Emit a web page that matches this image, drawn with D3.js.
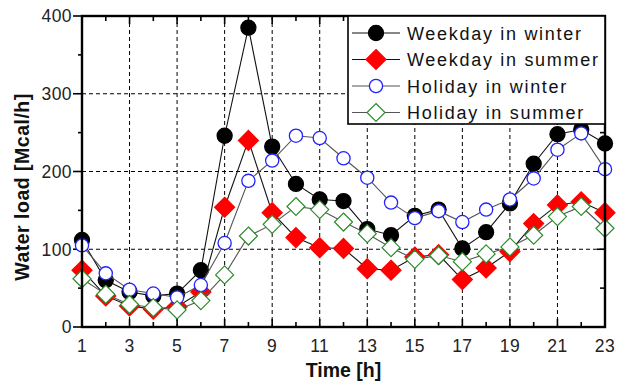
<!DOCTYPE html>
<html>
<head>
<meta charset="utf-8">
<script src="https://cdn.jsdelivr.net/npm/d3@7/dist/d3.min.js"></script>
<style>
  body { margin: 0; background: #fff; }
  svg { display: block; font-family: "Liberation Sans", Arial, sans-serif; }
  .tick-label { font-size: 17.5px; fill: #222; letter-spacing: 0.4px; }
  .axis-title { font-size: 19.5px; font-weight: bold; fill: #111; }
  .legend-text { font-size: 18px; fill: #111; letter-spacing: 1.7px; }
</style>
</head>
<body>
<div id="chart"></div>
<script>
// hours of the day
const hours = [1, 2, 3, 4, 5, 6, 7, 8, 9, 10, 11, 12, 13, 14, 15, 16, 17, 18, 19, 20, 21, 22, 23];

// water load [Mcal/h]
const weekdayWinter = [112, 60, 45, 40, 43, 73, 246, 385, 232, 184, 164, 162, 126, 118, 143, 151, 101, 122, 159, 210, 248, 254, 236];
const weekdaySummer = [73, 40, 27, 23, 26, 45, 154, 240, 147, 115, 102, 101, 75, 73, 90, 93, 61, 76, 97, 133, 157, 161, 147];
const holidayWinter = [105, 69, 48, 43, 38, 54, 108, 188, 214, 246, 243, 217, 192, 160, 140, 149, 135, 151, 164, 191, 228, 249, 203];
const holidaySummer = [62, 42, 29, 25, 22, 34, 67, 117, 132, 155, 151, 135, 120, 102, 87, 92, 84, 94, 103, 118, 142, 155, 127];

const seriesNames = ["Weekday in winter", "Weekday in summer", "Holiday in winter", "Holiday in summer"];
const xTickValues = [1, 3, 5, 7, 9, 11, 13, 15, 17, 19, 21, 23];
const yTickValues = [0, 100, 200, 300, 400];

const width = 628, height = 385;
const plot = { left: 82, right: 605, top: 16, bottom: 327 };

const x = d3.scaleLinear().domain([1, 23]).range([plot.left, plot.right]);
const y = d3.scaleLinear().domain([0, 400]).range([plot.bottom, plot.top]);

const svg = d3.select("#chart").append("svg")
  .attr("width", width)
  .attr("height", height);

// dashed grid
const grid = svg.append("g").attr("stroke", "#000").attr("stroke-width", 1).attr("stroke-dasharray", "4,3");
grid.selectAll(".vgrid")
  .data(xTickValues.filter(d => d > 1 && d < 23))
  .enter().append("line")
  .attr("x1", d => x(d)).attr("x2", d => x(d))
  .attr("y1", plot.top).attr("y2", plot.bottom);
grid.selectAll(".hgrid")
  .data(yTickValues.filter(d => d > 0 && d < 400))
  .enter().append("line")
  .attr("x1", plot.left).attr("x2", plot.right)
  .attr("y1", d => y(d)).attr("y2", d => y(d));

// ticks: bottom / top inward, left outward, right inward
const xMinor = d3.range(1, 24);
const yMinor = d3.range(0, 401, 50);
const ticks = svg.append("g").attr("stroke", "#000").attr("stroke-width", 1.6);
xMinor.forEach(h => {
  const len = (h % 2 === 1) ? 8 : 5;
  ticks.append("line").attr("x1", x(h)).attr("x2", x(h)).attr("y1", plot.bottom).attr("y2", plot.bottom - len);
  ticks.append("line").attr("x1", x(h)).attr("x2", x(h)).attr("y1", plot.top).attr("y2", plot.top + len);
});
yMinor.forEach(v => {
  const major = v % 100 === 0;
  ticks.append("line").attr("y1", y(v)).attr("y2", y(v)).attr("x1", plot.left).attr("x2", plot.left - (major ? 9 : 4));
  ticks.append("line").attr("y1", y(v)).attr("y2", y(v)).attr("x1", plot.right).attr("x2", plot.right - (major ? 8 : 5));
});

// tick labels
svg.append("g").selectAll("text")
  .data(xTickValues)
  .enter().append("text")
  .attr("class", "tick-label")
  .attr("x", d => x(d))
  .attr("y", 352)
  .attr("text-anchor", "middle")
  .text(d => d);

svg.append("g").selectAll("text")
  .data(yTickValues)
  .enter().append("text")
  .attr("class", "tick-label")
  .attr("x", 72)
  .attr("y", d => y(d) + 6.3)
  .attr("text-anchor", "end")
  .text(d => d);

// axis titles
svg.append("text")
  .attr("class", "axis-title")
  .attr("x", (plot.left + plot.right) / 2)
  .attr("y", 377)
  .attr("text-anchor", "middle")
  .text("Time [h]");

svg.append("text")
  .attr("class", "axis-title")
  .attr("transform", "translate(29,187) rotate(-90)")
  .attr("text-anchor", "middle")
  .style("letter-spacing", "0.5px")
  .text("Water load [Mcal/h]");

// series definitions
const series = [
  { name: seriesNames[0], values: weekdayWinter, line: "#111", shape: "circle", r: 7.5, fill: "#000", stroke: "#000" },
  { name: seriesNames[1], values: weekdaySummer, line: "#111", shape: "diamond", r: 10, fill: "#ff0000", stroke: "#ff0000" },
  { name: seriesNames[2], values: holidayWinter, line: "#555", shape: "circle", r: 6.6, fill: "#fff", stroke: "#2222ff" },
  { name: seriesNames[3], values: holidaySummer, line: "#555", shape: "diamond", r: 9, fill: "#fff", stroke: "#2e8b2e" }
];

function drawMarker(g, s, cx, cy) {
  if (s.shape === "circle") {
    g.append("circle").attr("cx", cx).attr("cy", cy).attr("r", s.r)
      .attr("fill", s.fill).attr("stroke", s.stroke).attr("stroke-width", 1.3);
  } else {
    const r = s.r;
    g.append("path")
      .attr("d", `M${cx},${cy - r}L${cx + r},${cy}L${cx},${cy + r}L${cx - r},${cy}Z`)
      .attr("fill", s.fill).attr("stroke", s.stroke).attr("stroke-width", 1.2);
  }
}

const line = d3.line().x(d => x(d[0])).y(d => y(d[1]));

series.forEach(s => {
  const g = svg.append("g");
  const pts = hours.map((h, i) => [h, s.values[i]]);
  g.append("path")
    .datum(pts)
    .attr("d", line)
    .attr("fill", "none")
    .attr("stroke", s.line)
    .attr("stroke-width", 1.1);
  pts.forEach(p => drawMarker(g, s, x(p[0]), y(p[1])));
});

// frame
svg.append("rect")
  .attr("x", plot.left).attr("y", plot.top)
  .attr("width", plot.right - plot.left).attr("height", plot.bottom - plot.top)
  .attr("fill", "none").attr("stroke", "#000").attr("stroke-width", 2.4);

// legend
const legend = svg.append("g");
legend.append("rect")
  .attr("x", 348).attr("y", plot.top)
  .attr("width", plot.right - 348).attr("height", 108)
  .attr("fill", "#fff").attr("stroke", "#000").attr("stroke-width", 1.6);

series.forEach((s, i) => {
  const cy = 33 + i * 26.5;
  legend.append("line")
    .attr("x1", 352).attr("x2", 400).attr("y1", cy).attr("y2", cy)
    .attr("stroke", s.line).attr("stroke-width", 1.2);
  drawMarker(legend, s, 376, cy);
  legend.append("text")
    .attr("class", "legend-text")
    .attr("x", 407)
    .attr("y", cy + 6.5)
    .text(s.name);
});
</script>
</body>
</html>
